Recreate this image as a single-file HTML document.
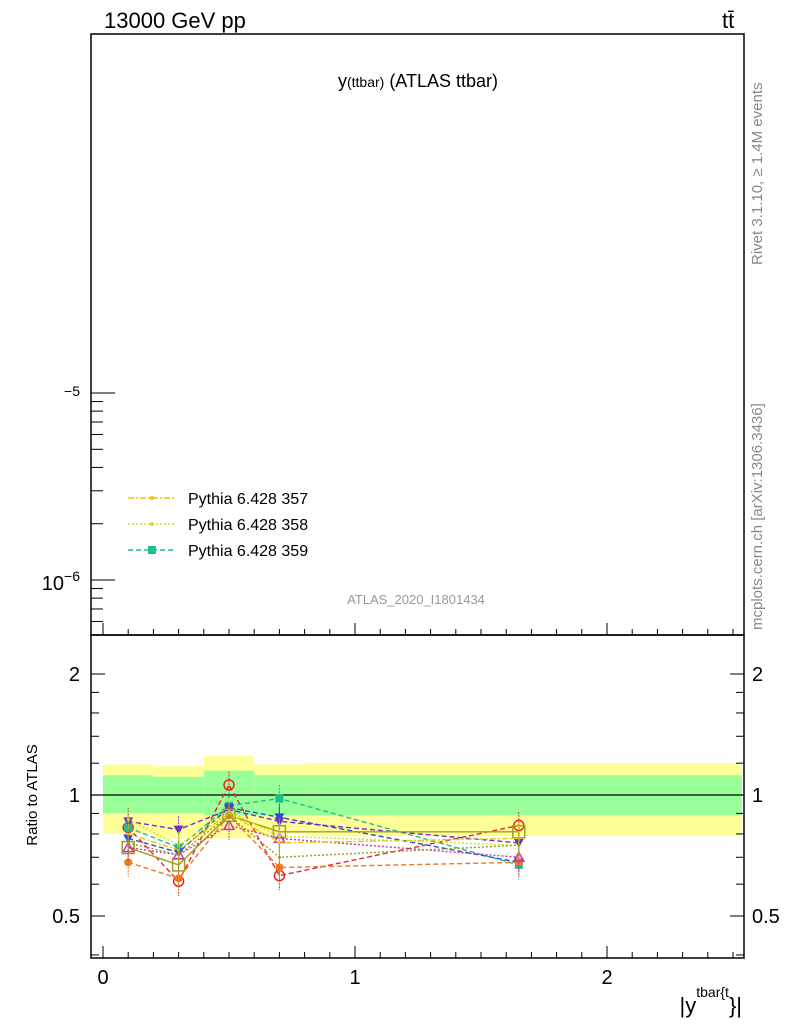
<!DOCTYPE html>
<html><head><meta charset="utf-8">
<style>
body{margin:0;background:#fff;font-family:"Liberation Sans",sans-serif;}
svg{display:block}
</style></head>
<body>
<svg id="c" width="786" height="1024" viewBox="0 0 786 1024" xmlns="http://www.w3.org/2000/svg" font-family="Liberation Sans, sans-serif">
<text x="104" y="28" font-size="22">13000 GeV pp</text>
<text x="722" y="28" font-size="22">tt̄</text>
<text x="418" y="87" font-size="18" text-anchor="middle">y<tspan font-size="14">(ttbar)</tspan> (ATLAS ttbar)</text>
<text x="416" y="604" font-size="13" fill="#999" text-anchor="middle">ATLAS_2020_I1801434</text>
<text transform="translate(762,265) rotate(-90)" font-size="15" fill="#888">Rivet 3.1.10, ≥ 1.4M events</text>
<text transform="translate(762,630) rotate(-90)" font-size="15" fill="#888">mcplots.cern.ch [arXiv:1306.3436]</text>
<text transform="translate(37,795) rotate(-90)" font-size="15" text-anchor="middle">Ratio to ATLAS</text>
<text x="742" y="1013" font-size="22" text-anchor="end">|y<tspan font-size="14" dy="-16">tbar{t</tspan><tspan font-size="22" dy="16">}|</tspan></text>
<g id="top"></g>
<g id="bands"></g>
<g id="series"></g>
<g id="axes"></g>
<g id="legend"></g>
</svg>
<script>
const xTicks=[0,1,2];
const ratioTicks=[0.5,1,2];
const binEdges=[0,0.2,0.4,0.6,0.8,2.55];
const yellowLo=[0.80,0.78,0.78,0.80,0.79];
const yellowHi=[1.19,1.18,1.25,1.19,1.20];
const greenLo=[0.90,0.90,0.89,0.89,0.89];
const greenHi=[1.12,1.11,1.15,1.12,1.12];
const xPoints=[0.1,0.3,0.5,0.7,1.65];
const seriesNames=["red","teal","blue","purple","olive","orange","magenta","yellow","lime","olivedot"];
const sRed=[0.83,0.61,1.06,0.63,0.84];
const sTeal=[0.83,0.74,0.94,0.98,0.67];
const sBlue=[0.78,0.72,0.93,0.88,0.68];
const sPurple=[0.86,0.82,0.92,0.86,0.76];
const sOlive=[0.74,0.67,0.89,0.81,0.81];
const sOrange=[0.68,0.62,0.89,0.66,0.68];
const sMagenta=[0.74,0.71,0.84,0.78,0.70];
const sYellow=[0.80,0.73,0.90,0.76,0.78];
const sLime=[0.87,0.75,0.91,0.79,0.75];
const sOliveDot=[0.76,0.71,0.89,0.70,0.75];
const legendLabels=["Pythia 6.428 357","Pythia 6.428 358","Pythia 6.428 359"];

const NS="http://www.w3.org/2000/svg";
const L=91,R=744,T=34,MID=635,B=958;
const X=v=>103+252*v;
const Y=r=>795-121*Math.log2(r);
const logY=e=>580-187*(e+6);
function mk(tag,attrs,parent){const e=document.createElementNS(NS,tag);for(const k in attrs)e.setAttribute(k,attrs[k]);parent.appendChild(e);return e;}

const bands=document.getElementById('bands');
for(let i=0;i<binEdges.length-1;i++){
 const x1=X(binEdges[i]),x2=Math.min(X(binEdges[i+1]),R-2);
 const y=mk('rect',{x:x1,y:Y(yellowHi[i]),width:x2-x1,height:Y(yellowLo[i])-Y(yellowHi[i]),fill:'#ffff99'},bands);
 
 
 const g=mk('rect',{x:x1,y:Y(greenHi[i]),width:x2-x1,height:Y(greenLo[i])-Y(greenHi[i]),fill:'#99ff99'},bands);
 
 
}
const one=mk('line',{x1:L,x2:R,y1:Y(1),y2:Y(1),stroke:'#000','stroke-width':1.2},bands);



const sdata=[sRed,sTeal,sBlue,sPurple,sOlive,sOrange,sMagenta,sYellow,sLime,sOliveDot];
const colors=['#e8262a','#1dbf8d','#2250d0','#7030c0','#a0a020','#f07820','#d030b0','#e8c800','#c8e030','#90a020'];
const dashes=['5,3','5,3','5,3','5,3','','5,3','2,2','6,2,2,2','2,2','2,2'];
const sg=document.getElementById('series');
sdata.forEach((arr,si)=>{
 const c=colors[si];
 const pts=arr.map((v,i)=>X(xPoints[i])+','+Y(v)).join(' ');
 const pl=mk('polyline',{points:pts,fill:'none',stroke:c,'stroke-width':1.4,'stroke-dasharray':dashes[si]},sg);
 
 
 arr.forEach((v,i)=>{
  const x=X(xPoints[i]),y=Y(v);
  const eb=mk('line',{x1:x,x2:x,y1:Y(v*1.08),y2:Y(v*0.92),stroke:c,'stroke-width':1,'stroke-dasharray':'2,1'},sg);
  
  
  let m;
  if(si===0) m=mk('circle',{cx:x,cy:y,r:5,fill:'none',stroke:c,'stroke-width':1.5},sg);
  else if(si===4) m=mk('rect',{x:x-6,y:y-6,width:12,height:12,fill:'none',stroke:c,'stroke-width':1.5},sg);
  else if(si===1) m=mk('rect',{x:x-4,y:y-4,width:8,height:8,fill:c},sg);
  else if(si===2||si===3) m=mk('polygon',{points:`${x-5},${y-4} ${x+5},${y-4} ${x},${y+5}`,fill:c},sg);
  else if(si===6) m=mk('polygon',{points:`${x-5},${y+4} ${x+5},${y+4} ${x},${y-5}`,fill:'none',stroke:c,'stroke-width':1.5},sg);
  else m=mk('circle',{cx:x,cy:y,r:si===5?4:1.5,fill:c},sg);
  
  
 });
});

const ax=document.getElementById('axes');
[[L,T,R-L,MID-T],[L,MID,R-L,B-MID]].forEach((r,i)=>{
 const f=mk('rect',{x:r[0],y:r[1],width:r[2],height:r[3],fill:'none',stroke:'#000','stroke-width':1.5},ax);
 
 
});
for(let v=0;v<=2.6;v+=0.1){
 const x=X(v); if(x>R) break;
 const major=Math.abs(v-Math.round(v))<1e-6;
 const len=major?12:6;
 const t=mk('line',{x1:x,x2:x,y1:B,y2:B-len,stroke:'#000'},ax);
 
 
 const t2=mk('line',{x1:x,x2:x,y1:MID,y2:MID-len,stroke:'#000'},ax);
 
 
}
xTicks.forEach(v=>{
 const t=mk('text',{x:X(v),y:984,'font-size':20,'text-anchor':'middle'},ax);
 t.textContent=v;
 
 
});
const minor=[0.4,0.5,0.6,0.7,0.8,0.9,1,1.2,1.4,1.6,1.8,2];
minor.forEach(v=>{
 const y=Y(v); if(y>B||y<MID) return;
 const len=ratioTicks.includes(v)?14:8;
 [[L,L+len],[R,R-len]].forEach(p=>{
  const t=mk('line',{x1:p[0],x2:p[1],y1:y,y2:y,stroke:'#000'},ax);
  
  
 });
});
ratioTicks.forEach(v=>{
 [[80,'end'],[752,'start']].forEach(p=>{
  const t=mk('text',{x:p[0],y:Y(v)+7,'font-size':20,'text-anchor':p[1]},ax);
  t.textContent=v;
  
  
 });
});
for(let d=-7;d<=-5;d++){
 for(let k=1;k<10;k++){
  if(d===-5&&k>1) continue;
  const y=logY(d+Math.log10(k)); if(y<T||y>MID) continue;
  const len=k===1?24:12;
  const t=mk('line',{x1:L,x2:L+len,y1:y,y2:y,stroke:'#000'},ax);
  
  
 }
}
const l5=mk('text',{x:80,y:396,'font-size':14,'text-anchor':'end'},ax);
l5.textContent='−5';


const l6=mk('text',{x:80,y:590,'font-size':20,'text-anchor':'end'},ax);
l6.innerHTML='10<tspan font-size="14" dy="-9">−6</tspan>';



const lg=document.getElementById('legend');
const lcol=['#e8c800','#c8e030','#1dbf8d'];
const ldash=['6,2,2,2','2,2','5,3'];
legendLabels.forEach((s,i)=>{
 const y=498+i*26;
 const ln=mk('line',{x1:128,x2:176,y1:y,y2:y,stroke:lcol[i],'stroke-width':1.5,'stroke-dasharray':ldash[i]},lg);
 
 
 const m=i===2?mk('rect',{x:148,y:y-4,width:8,height:8,fill:lcol[i]},lg):mk('circle',{cx:152,cy:y,r:2,fill:lcol[i]},lg);
 
 
 const t=mk('text',{x:188,y:y+6,'font-size':16},lg);
 t.textContent=s;
 
 
});
</script>
</body></html>
